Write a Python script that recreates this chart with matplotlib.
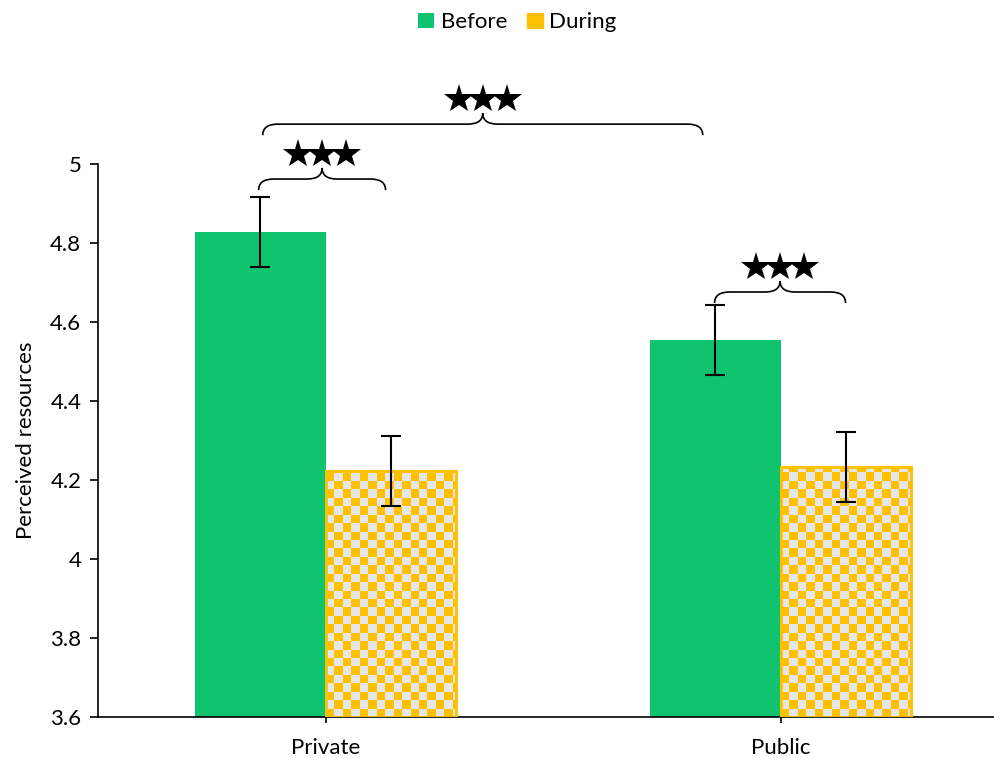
import numpy as np
import matplotlib
matplotlib.use("Agg")
import matplotlib.pyplot as plt
from matplotlib.patches import Rectangle, PathPatch
from matplotlib.path import Path
from matplotlib.colors import ListedColormap
from matplotlib.transforms import ScaledTranslation

# --- Dados ---
categorias = ['Private', 'Public']
antes = [4.828, 4.555]
durante = [4.223, 4.233]
erro_antes = [0.088, 0.088]
erro_durante = [0.088, 0.088]
series = ['Before', 'During']

VERDE = '#10C46F'
AMARELO = '#FFC000'
CINZA = '#E6E6E6'
FONTE = 16

plt.rcParams['font.family'] = ['Lato', 'DejaVu Sans']

fig = plt.figure(figsize=(9.95, 7.58), dpi=100)
ax = fig.add_axes([0.0985, 0.0541, 0.9146, 0.7295])

x = np.arange(len(categorias))
largura = 0.286

# barras "Before"
ax.bar(x - largura / 2, antes, largura, color=VERDE, zorder=2)
ax.errorbar(x - largura / 2, antes, yerr=erro_antes, fmt='none', ecolor='black',
            elinewidth=1.5, capsize=7, capthick=1.5, zorder=4)

# barras "During" com padrão xadrez
barras_d = ax.bar(x + largura / 2, durante, largura, color=AMARELO,
                  edgecolor=AMARELO, linewidth=2, zorder=2)
cel_x = 8.4 / 455
cel_y = 8.4 / 395
for b in barras_d:
    x0, w = b.get_x(), b.get_width()
    y1 = b.get_height()
    y0 = 3.6
    nx = int(np.ceil(w / cel_x))
    ny = int(np.ceil((y1 - y0) / cel_y))
    xadrez = (np.add.outer(np.arange(ny), np.arange(nx)) % 2)
    im = ax.imshow(xadrez, cmap=ListedColormap([AMARELO, CINZA]), origin='lower',
                   extent=(x0, x0 + nx * cel_x, y0, y0 + ny * cel_y),
                   interpolation='nearest', aspect='auto', zorder=2.5)
    im.set_clip_path(b)
    borda = Rectangle((x0, y0), w, y1 - y0, facecolor='none', edgecolor=AMARELO,
                      linewidth=2, zorder=2.6)
    ax.add_patch(borda)
ax.errorbar(x + largura / 2, durante, yerr=erro_durante, fmt='none', ecolor='black',
            elinewidth=1.5, capsize=7, capthick=1.5, zorder=4)


# --- Chaves de significância ---
def estrelas(ax, xc, y, n=3, passo=24):
    # estrelas encostadas umas nas outras, deslocadas em pixels
    for k in range(n):
        dx = (k - (n - 1) / 2) * passo / 100
        tr = ax.transData + ScaledTranslation(dx, 0, fig.dpi_scale_trans)
        ax.plot([xc], [y], marker='*', markersize=22, color='black',
                markeredgewidth=0, transform=tr, clip_on=False, zorder=5)


def chave(ax, x0, x1, y_base, d1=0.028, d2=0.028, rx=0.033):
    xc = (x0 + x1) / 2
    ym = y_base + d1
    yt = ym + d2
    verts = [(x0, y_base), (x0, ym), (x0 + rx, ym), (xc - rx, ym), (xc, ym), (xc, yt),
             (xc, ym), (xc + rx, ym), (x1 - rx, ym), (x1, ym), (x1, y_base)]
    codes = [Path.MOVETO, Path.CURVE3, Path.CURVE3, Path.LINETO, Path.CURVE3, Path.CURVE3,
             Path.CURVE3, Path.CURVE3, Path.LINETO, Path.CURVE3, Path.CURVE3]
    ax.add_patch(PathPatch(Path(verts, codes), facecolor='none', edgecolor='black',
                           linewidth=1.2, clip_on=False, zorder=5))
    estrelas(ax, xc, yt + 0.036)


chave(ax, -0.147, 0.132, 4.934)
chave(ax, -0.138, 0.829, 5.073)
chave(ax, 0.855, 1.143, 4.648)

# --- Eixos ---
ax.set_xlim(-0.5, 1.5)
ax.set_ylim(3.6, 5.0)
ax.set_yticks([3.6, 3.8, 4.0, 4.2, 4.4, 4.6, 4.8, 5.0])
ax.set_yticklabels(['3.6', '3.8', '4', '4.2', '4.4', '4.6', '4.8', '5'])
ax.set_xticks(x)
ax.set_xticklabels(categorias)
ax.tick_params(axis='y', labelsize=FONTE, length=6, width=1.2, pad=6)
ax.tick_params(axis='x', labelsize=FONTE, length=4, width=1.2, pad=11)
ax.set_ylabel('Perceived resources', fontsize=FONTE, labelpad=10)
for lado in ['top', 'right']:
    ax.spines[lado].set_visible(False)
ax.spines['left'].set_linewidth(1.2)
ax.spines['bottom'].set_linewidth(1.2)

# legenda
h1 = Rectangle((0, 0), 1, 1, facecolor=VERDE)
h2 = Rectangle((0, 0), 1, 1, facecolor=AMARELO, edgecolor=AMARELO)
fig.legend([h1, h2], series, loc='upper center', bbox_to_anchor=(0.52, 1.01), ncol=2,
           frameon=False, fontsize=FONTE, handlelength=0.7, handleheight=0.7,
           handletextpad=0.3, columnspacing=0.9)

fig.savefig('out.png', dpi=100)
